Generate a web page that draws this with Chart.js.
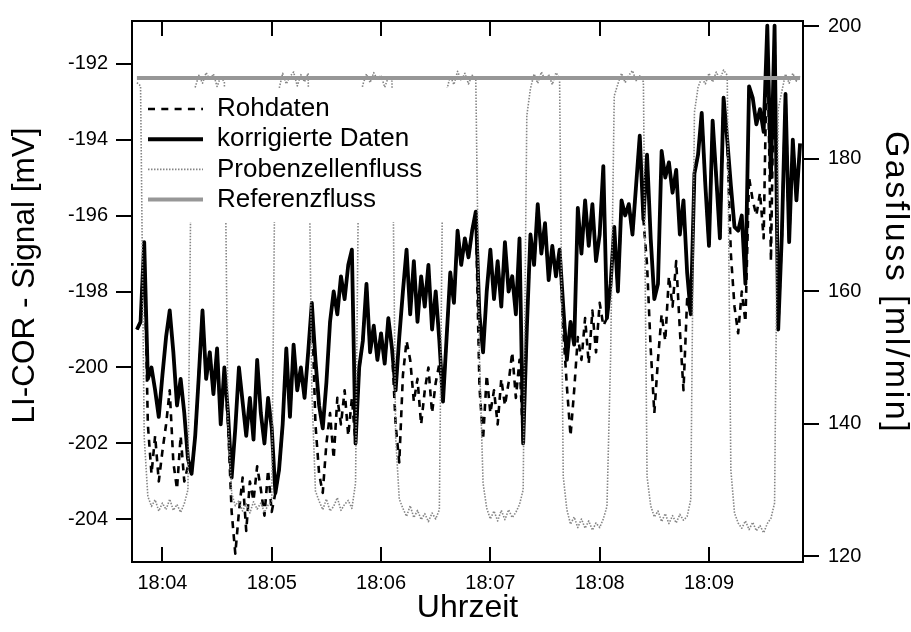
<!DOCTYPE html>
<html>
<head>
<meta charset="utf-8">
<script src="https://cdn.jsdelivr.net/npm/chart.js@4.4.1/dist/chart.umd.min.js"></script>
<style>
  body { margin: 0; background: #fff; }
  #chart { display: block; }
</style>
</head>
<body>
<canvas id="chart" width="911" height="632"></canvas>
<script>
// time axis: seconds after 18:00:00, one sample every 2 s
const sampleStart = 226;
const sampleStep = 2;

const rawSignal = [
  -199.0, -198.8, -196.7, -201.5, -202.8, -201.8, -203.0, -202.2, -201.5, -200.6,
  -202.5, -203.2, -201.8, -203.0, -202.6, -202.8, -201.8, -200.2, -198.5, -200.3,
  -199.6, -200.7, -199.5, -201.5, -200.0, -201.5, -203.8, -204.9, -203.8, -202.9,
  -204.3, -203.0, -203.5, -202.6, -203.2, -203.9, -202.7, -203.8, -203.3, -202.7,
  -201.5, -199.5, -201.3, -199.4, -200.6, -200.0, -200.8, -199.6, -198.3, -201.5,
  -202.8, -203.3, -202.0, -201.2, -202.4, -200.8, -201.5, -200.6, -201.8, -200.8,
  -202.0, -200.0, -199.3, -197.8, -199.6, -198.9, -199.8, -199.1, -199.9, -198.7,
  -199.5, -201.5, -202.5, -200.2, -199.3, -199.8, -200.9, -200.3, -201.5, -200.6,
  -200.0, -201.2, -200.4, -199.9, -200.9, -199.2, -197.5, -198.3, -196.4, -197.3,
  -196.6, -197.1, -196.4, -195.9, -200.5, -201.9, -200.2, -201.2, -200.6, -201.5,
  -200.3, -201.0, -200.4, -199.6, -200.8, -199.8, -202.0, -199.0, -196.5, -197.3,
  -195.7, -197.0, -196.2, -197.7, -196.8, -197.6, -196.9, -199.0, -200.5, -201.8,
  -200.6, -199.2, -199.8, -198.7, -199.9, -198.5, -199.6, -198.3, -198.9, -198.7,
  -197.8, -196.3, -198.0, -195.6, -196.0, -195.7, -196.5, -195.2, -193.9, -196.1,
  -197.3, -199.5, -201.2, -199.8, -198.6, -199.3, -197.6, -198.4, -197.2, -199.0,
  -200.6, -198.2, -198.6, -194.9, -194.4, -193.3, -195.2, -196.8, -193.5, -195.0,
  -196.6, -192.9, -194.0, -197.0, -198.4, -199.1, -198.0, -198.8, -195.0, -195.6,
  -196.0, -195.4, -196.6, -191.0, -197.2, -191.0, -199.0, -196.5, -192.8, -196.7,
  -194.0, -195.6, -194.1
];

const correctedSignal = [
  -199.0, -198.8, -196.7, -200.3, -200.0, -200.6, -201.3, -200.2, -199.2, -198.5,
  -199.6, -201.0, -200.3, -201.2, -202.4, -202.8, -201.8, -200.2, -198.5, -200.3,
  -199.6, -200.7, -199.5, -201.5, -200.0, -201.2, -202.9, -201.6, -200.0, -200.9,
  -201.8, -200.8, -201.9, -199.8, -201.2, -202.0, -200.8, -201.6, -203.3, -202.7,
  -201.5, -199.5, -201.3, -199.4, -200.6, -200.0, -200.8, -199.6, -198.3, -199.8,
  -201.0, -201.6, -200.4, -198.8, -198.0, -198.6, -197.6, -198.2, -197.3, -196.9,
  -202.0, -200.0, -199.3, -197.8, -199.6, -198.9, -199.8, -199.1, -199.9, -198.7,
  -199.5, -200.6, -199.2, -198.0, -196.9, -198.6, -197.2, -198.8, -197.6, -198.4,
  -197.3, -199.0, -198.0, -199.3, -200.9, -199.2, -197.5, -198.3, -196.4, -197.3,
  -196.6, -197.1, -196.4, -195.9, -198.6, -199.6, -198.0, -196.9, -198.2, -197.2,
  -198.4, -196.7, -198.0, -197.6, -198.6, -196.6, -202.0, -199.0, -196.5, -197.3,
  -195.7, -197.0, -196.2, -197.7, -196.8, -197.6, -196.9, -198.4, -199.8, -198.8,
  -199.4, -195.8, -197.0, -195.6, -196.8, -195.7, -197.2, -196.5, -194.7, -198.7,
  -197.8, -196.3, -198.0, -195.6, -196.0, -195.7, -196.5, -195.2, -193.9, -196.1,
  -194.4, -196.6, -198.2, -197.8, -194.3, -195.0, -194.6, -195.4, -194.8, -196.5,
  -195.6, -197.5, -198.6, -194.9, -194.4, -193.3, -195.2, -196.8, -193.5, -195.0,
  -196.6, -192.9, -194.0, -195.2, -196.3, -196.4, -196.0, -197.8, -192.6, -192.9,
  -193.6, -193.2, -193.8, -191.0, -195.0, -191.0, -199.0, -196.5, -192.8, -196.7,
  -194.0, -195.6, -194.1
];

const sampleFlow = [
  191.5, 191.0, 138.0, 129.0, 127.5, 128.5, 126.8, 128.0, 127.0, 128.6,
  126.9, 127.8, 126.6, 127.9, 130.0, 187.5, 190.8, 192.6, 191.4, 193.0,
  191.9, 192.8, 190.9, 192.4, 191.6, 140.0, 129.5, 127.6, 128.4, 126.8,
  127.9, 126.5, 128.2, 127.1, 128.0, 126.6, 127.7, 128.3, 186.5, 190.5,
  192.9, 191.3, 192.4, 193.1, 191.0, 192.7, 191.6, 192.9, 145.0, 129.8,
  128.3, 127.0, 128.6, 126.8, 127.5, 128.8, 126.9, 127.8, 128.4, 127.2,
  131.0, 188.0, 191.2, 192.8, 191.5, 193.0, 191.9, 192.6, 190.8, 192.3,
  191.7, 138.0, 128.6, 127.2, 126.0, 127.6, 125.8, 126.9, 125.5, 126.4,
  125.2, 126.5, 125.6, 127.0, 183.0, 190.3, 192.5, 191.2, 193.2, 191.8,
  192.9, 191.3, 192.6, 192.0, 150.0, 131.0, 127.2, 125.6, 126.8, 125.3,
  126.9, 125.5, 127.0, 125.8, 126.6, 127.8, 130.0, 186.5, 190.6, 192.8,
  191.4, 193.1, 191.9, 192.7, 191.2, 193.0, 192.2, 132.0, 127.0, 124.8,
  125.9, 124.3, 125.6, 124.2, 125.3, 123.9, 125.0, 124.3, 125.6, 127.5,
  150.0, 189.5, 191.3, 192.9, 191.5, 192.6, 193.3, 191.8, 192.5, 191.6,
  132.0, 127.6, 125.9, 126.8, 125.2, 126.4, 124.9, 126.1, 125.0, 126.3,
  125.4, 126.0, 128.5, 187.0, 190.8, 192.2, 191.3, 192.9, 191.6, 193.1,
  192.0, 193.4, 192.6, 133.0, 126.5, 125.0, 124.2, 125.3, 124.0, 125.1,
  123.8, 124.6, 123.5, 124.9, 125.7, 128.0, 187.5, 190.2, 192.8, 191.4,
  192.9, 191.7, 192.5
];

const refTimes = [226, 590];
const refFlow = [192.2, 192.2];

const xTicks = [240, 300, 360, 420, 480, 540];
const xTickLabels = ['18:04', '18:05', '18:06', '18:07', '18:08', '18:09'];
const signalTicks = [-204, -202, -200, -198, -196, -194, -192];
const flowTicks = [120, 140, 160, 180, 200];
const seriesLabels = ['Rohdaten', 'korrigierte Daten', 'Probenzellenfluss', 'Referenzfluss'];
const signalTitle = 'LI-COR - Signal [mV]';
const flowTitle = 'Gasfluss [ml/min]';

const sampleTimes = rawSignal.map((v, i) => sampleStart + i * sampleStep);

function toPoints(xs, ys) {
    return ys.map((y, i) => ({ x: xs[i], y: y }));
}

const fontFamily = '"Liberation Sans", Arial, sans-serif';
Chart.defaults.font.family = fontFamily;
Chart.defaults.color = '#000';

// legend box inside the plot, with white background
const insideLegend = {
    id: 'insideLegend',
    afterDatasetsDraw(chart) {
        const ctx = chart.ctx;
        ctx.save();
        ctx.fillStyle = '#fff';
        ctx.fillRect(145, 88, 310, 134);
        chart.data.datasets.forEach((ds, i) => {
            const y = 109 + i * 30.2;
            ctx.strokeStyle = ds.borderColor;
            ctx.lineWidth = ds.legendLineWidth;
            ctx.setLineDash(ds.legendDash || []);
            ctx.beginPath();
            ctx.moveTo(148, y);
            ctx.lineTo(203, y);
            ctx.stroke();
            ctx.setLineDash([]);
            ctx.fillStyle = '#000';
            ctx.font = '26px ' + fontFamily;
            ctx.textBaseline = 'middle';
            ctx.textAlign = 'left';
            ctx.fillText(ds.label, 217, y);
        });
        ctx.restore();
    }
};

// frame round the plot, inward x ticks at top and bottom, y axis titles
const plotFrame = {
    id: 'plotFrame',
    afterDraw(chart) {
        const ctx = chart.ctx;
        const area = chart.chartArea;
        const xs = chart.scales.x;
        ctx.save();
        ctx.strokeStyle = '#000';
        ctx.lineWidth = 2;
        ctx.beginPath();
        xs.ticks.forEach(t => {
            const px = Math.round(xs.getPixelForValue(t.value));
            ctx.moveTo(px, area.bottom);
            ctx.lineTo(px, area.bottom - 15);
            ctx.moveTo(px, area.top);
            ctx.lineTo(px, area.top + 15);
        });
        ctx.stroke();
        ctx.strokeRect(area.left, area.top, area.right - area.left, area.bottom - area.top);
        ctx.restore();

        ctx.save();
        ctx.fillStyle = '#000';
        ctx.textAlign = 'center';
        ctx.textBaseline = 'middle';
        ctx.font = '31.5px ' + fontFamily;
        ctx.translate(25, 275.5);
        ctx.rotate(-Math.PI / 2);
        ctx.fillText(signalTitle, 0, 0);
        ctx.restore();

        ctx.save();
        ctx.fillStyle = '#000';
        ctx.textAlign = 'center';
        ctx.textBaseline = 'middle';
        ctx.font = '34px ' + fontFamily;
        ctx.letterSpacing = '2.5px';
        ctx.translate(895.5, 282.5);
        ctx.rotate(Math.PI / 2);
        ctx.fillText(flowTitle, 0, 0);
        ctx.restore();
    }
};

new Chart(document.getElementById('chart').getContext('2d'), {
    type: 'line',
    data: {
        datasets: [{
            label: seriesLabels[0],
            data: toPoints(sampleTimes, rawSignal),
            yAxisID: 'y',
            borderColor: '#000',
            borderWidth: 2.6,
            borderDash: [7, 6],
            legendLineWidth: 2.7,
            legendDash: [7, 6.3],
            order: 3
        }, {
            label: seriesLabels[1],
            data: toPoints(sampleTimes, correctedSignal),
            yAxisID: 'y',
            borderColor: '#000',
            borderWidth: 3.8,
            legendLineWidth: 4,
            order: 2
        }, {
            label: seriesLabels[2],
            data: toPoints(sampleTimes, sampleFlow),
            yAxisID: 'y1',
            borderColor: '#858585',
            borderWidth: 1.6,
            borderDash: [1.5, 1.5],
            legendLineWidth: 1.6,
            legendDash: [1.5, 1.5],
            order: 1
        }, {
            label: seriesLabels[3],
            data: toPoints(refTimes, refFlow),
            yAxisID: 'y1',
            borderColor: '#979797',
            borderWidth: 4,
            legendLineWidth: 4,
            order: 0
        }]
    },
    options: {
        responsive: false,
        animation: false,
        devicePixelRatio: 1,
        layout: { padding: { top: 13, left: 0, right: 0, bottom: 0 } },
        elements: {
            point: { radius: 0, hoverRadius: 0 },
            line: { tension: 0, borderJoinStyle: 'round', fill: false }
        },
        plugins: { legend: { display: false }, tooltip: { enabled: false } },
        scales: {
            x: {
                type: 'linear',
                position: 'bottom',
                min: 223.3,
                max: 591.6,
                afterBuildTicks: s => { s.ticks = xTicks.map(v => ({ value: v })); },
                afterFit: s => { s.height = 70; },
                grid: { display: false, drawTicks: false },
                border: { display: false },
                ticks: {
                    autoSkip: false, maxRotation: 0, padding: 9,
                    font: { size: 20 }, color: '#000',
                    callback: (v, i) => xTickLabels[i]
                },
                title: {
                    display: true, text: 'Uhrzeit', color: '#000',
                    font: { size: 32, lineHeight: 1 },
                    padding: { top: 0, bottom: 8 }
                }
            },
            y: {
                position: 'left',
                min: -205.12,
                max: -190.88,
                afterBuildTicks: s => { s.ticks = signalTicks.map(v => ({ value: v })); },
                afterFit: s => { s.width = 132; },
                grid: { drawOnChartArea: false, drawTicks: true, tickLength: 16, tickWidth: 2, tickColor: '#000', lineWidth: 2 },
                border: { display: false },
                ticks: { padding: 8, font: { size: 20 }, color: '#000', callback: v => String(v) },
                title: { display: false }
            },
            y1: {
                position: 'right',
                min: 119.1,
                max: 200.8,
                afterBuildTicks: s => { s.ticks = flowTicks.map(v => ({ value: v })); },
                afterFit: s => { s.width = 108; },
                grid: { drawOnChartArea: false, drawTicks: true, tickLength: 16, tickWidth: 2, tickColor: '#000', lineWidth: 2 },
                border: { display: false },
                ticks: { padding: 9, font: { size: 20 }, color: '#000', callback: v => String(v) },
                title: { display: false }
            }
        }
    },
    plugins: [insideLegend, plotFrame]
});
</script>
</body>
</html>
